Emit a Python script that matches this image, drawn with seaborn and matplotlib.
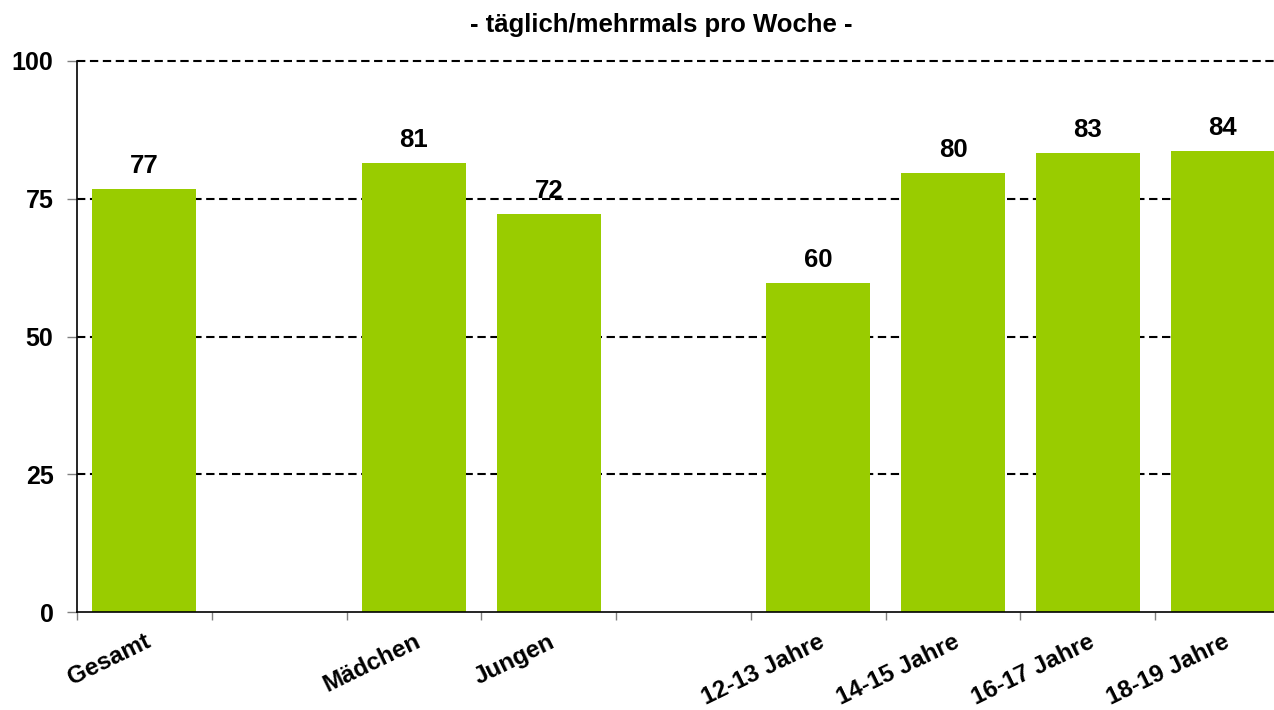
import numpy as np
import pandas as pd
import matplotlib
matplotlib.use("Agg")
import matplotlib.pyplot as plt
import matplotlib.transforms as mtransforms
import seaborn as sns

categories = ["Gesamt", " ", "Mädchen", "Jungen", "  ", "12-13 Jahre", "14-15 Jahre", "16-17 Jahre", "18-19 Jahre"]
values = [76.8, np.nan, 81.5, 72.2, np.nan, 59.7, 79.7, 83.3, 83.7]
labels = ["77", "", "81", "72", "", "60", "80", "83", "84"]
title = "- täglich/mehrmals pro Woche -"

sns.set_theme(style="white")
plt.rcParams["font.family"] = ["Liberation Sans", "DejaVu Sans"]
plt.rcParams["text.color"] = "black"
plt.rcParams["xtick.labelcolor"] = "black"
plt.rcParams["ytick.labelcolor"] = "black"

df = pd.DataFrame({"cat": categories, "val": values})

fig = plt.figure(figsize=(12.74, 7.10), dpi=100)
ax = fig.add_axes([77/1274, 1-612/710, (1290-77)/1274, (612-61)/710])

sns.barplot(data=df, x="cat", y="val", order=categories, color="#99CC00",
            saturation=1, width=0.77, ax=ax, edgecolor="none")

ax.set_ylim(0, 100)
ax.set_xlim(-0.5, len(categories) - 0.5)
ax.set_yticks([0, 25, 50, 75, 100])
ax.set_yticklabels(["0", "25", "50", "75", "100"], fontsize=18, fontweight="bold", color="black")
for y in [25, 50, 75, 100]:
    ax.axhline(y, color="black", linestyle=(0, (4, 2.2)), linewidth=1.5, zorder=0, clip_on=False)

# boundaries as major ticks, labels at centers as minor ticks
n = len(categories)
ax.set_xticks(np.arange(n + 1) - 0.5)
ax.set_xticklabels([""] * (n + 1))
ax.set_xticks(np.arange(n), minor=True)
ax.set_xticklabels([c.strip() for c in categories], minor=True, rotation=26,
                   ha="right", rotation_mode="anchor", fontsize=17.5, fontweight="bold", color="black")
shift = mtransforms.ScaledTranslation(-5/100, 0, fig.dpi_scale_trans)
for lab in ax.get_xticklabels(minor=True):
    lab.set_transform(lab.get_transform() + shift)
ax.tick_params(axis="x", which="major", length=6, color="#808080", width=1, direction="out", bottom=True)
ax.tick_params(axis="x", which="minor", length=0, pad=13)
ax.tick_params(axis="y", length=7, color="#808080", width=1, direction="out", left=True, pad=10)

for s in ["top", "right"]:
    ax.spines[s].set_visible(False)
for s in ["left", "bottom"]:
    ax.spines[s].set_color("black")
    ax.spines[s].set_linewidth(1.2)

ax.set_xlabel("")
ax.set_ylabel("")

for i, (v, lab) in enumerate(zip(values, labels)):
    if lab and not np.isnan(v):
        ax.annotate(lab, (i, v), xytext=(0, 8), textcoords="offset points",
                    ha="center", va="bottom", fontsize=18.5, fontweight="bold", color="black")

fig.text(661/1274, 1 - 25/710, title, ha="center", va="center", fontsize=18.5,
         fontweight="bold", color="black")

fig.savefig("out.png", dpi=100)
